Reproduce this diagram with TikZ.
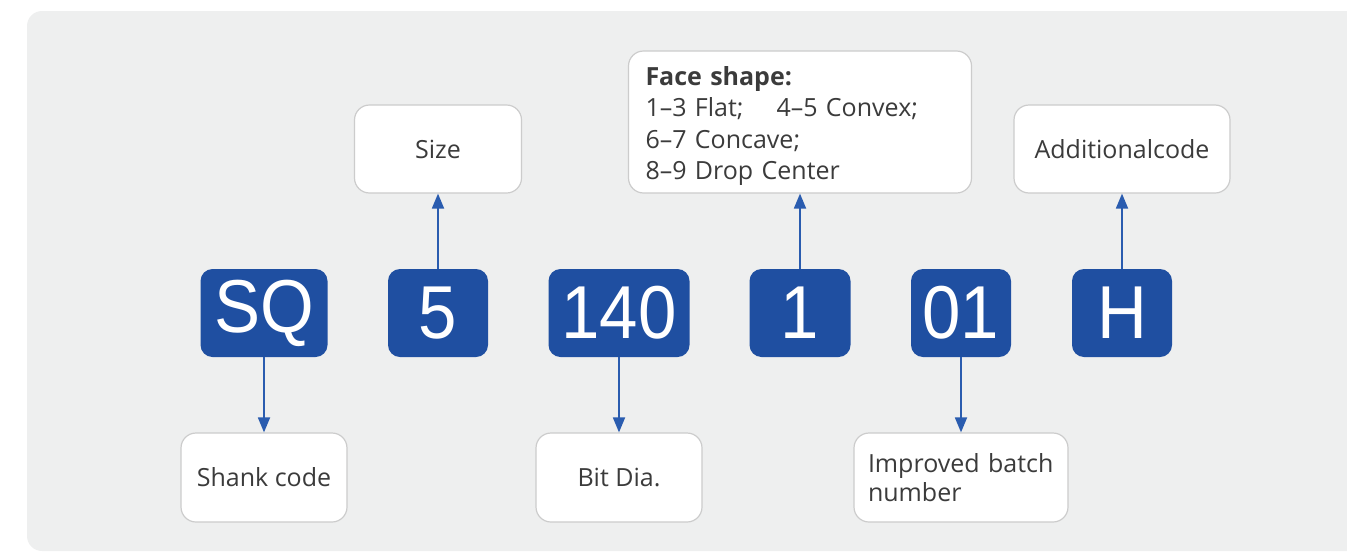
\documentclass[tikz,border=0pt]{standalone}
\usepackage{fontspec}
\setmainfont{Open Sans}
\newfontfamily\bigfont[FakeStretch=0.92]{Liberation Sans}
\usetikzlibrary{arrows.meta}
\definecolor{bggray}{HTML}{EEEFEF}
\definecolor{codeblue}{HTML}{1F4FA1}
\definecolor{arrowblue}{HTML}{2A5CAF}
\definecolor{boxborder}{HTML}{CCCCCC}
\definecolor{txtgray}{HTML}{3B3B3B}
\tikzset{
  codebox/.style={fill=codeblue, rounded corners=12pt, minimum height=88pt,
    inner sep=0pt, text=white, font=\bigfont\fontsize{75}{80}\selectfont},
  labelbox/.style={fill=white, draw=boxborder, line width=1.2pt, rounded corners=15pt,
    inner sep=0pt, text=txtgray, font=\fontsize{25}{29}\selectfont},
  conn/.style={draw=arrowblue, line width=1.8pt, -{Triangle[width=12pt,length=15pt]}, arrowblue}
}
\begin{document}
\begin{tikzpicture}[x=1pt,y=-1pt]
\useasboundingbox (0,0) rectangle (1347,552);
\clip (0,0) rectangle (1347,552);
\fill[bggray, rounded corners=15pt] (27,11) rectangle (1400,551);

% code boxes
\node[codebox, minimum width=127pt] (sq) at (264,313) {SQ};
\node[codebox, minimum width=100pt] (five) at (438,313) {5};
\node[codebox, minimum width=141pt] (onefourty) at (619,313) {140};
\node[codebox, minimum width=101pt] (one) at (800,313) {1};
\node[codebox, minimum width=100pt] (zeroone) at (961,313) {01};
\node[codebox, minimum width=100pt] (h) at (1122,313) {H};

% label boxes
\node[labelbox, minimum width=167pt, minimum height=88pt] (size) at (438,149) {Size};
\node[labelbox, minimum width=343pt, minimum height=142pt, text width=309pt,
  inner xsep=17pt, align=left, font=\fontsize{25}{31.5}\selectfont] (face) at (800,122)
  {\rule{0pt}{27pt}\textbf{Face shape:}\\1–3 Flat;\hspace{33pt}4–5 Convex;\\6–7 Concave;\\8–9 Drop Center};
\node[labelbox, minimum width=216pt, minimum height=88pt] (addl) at (1122,149) {Additionalcode};
\node[labelbox, minimum width=166pt, minimum height=89pt] (shank) at (264,477.5) {Shank code};
\node[labelbox, minimum width=166pt, minimum height=89pt] (bitdia) at (619,477.5) {Bit Dia.};
\node[labelbox, minimum width=214pt, minimum height=89pt, text width=186pt,
  inner xsep=14pt, align=left] (batch) at (961,477.5) {Improved batch\\number};

% connectors
\draw[conn] (sq.south) -- (shank.north);
\draw[conn] (five.north) -- (size.south);
\draw[conn] (onefourty.south) -- (bitdia.north);
\draw[conn] (one.north) -- (face.south);
\draw[conn] (zeroone.south) -- (batch.north);
\draw[conn] (h.north) -- (addl.south);
\end{tikzpicture}
\end{document}
